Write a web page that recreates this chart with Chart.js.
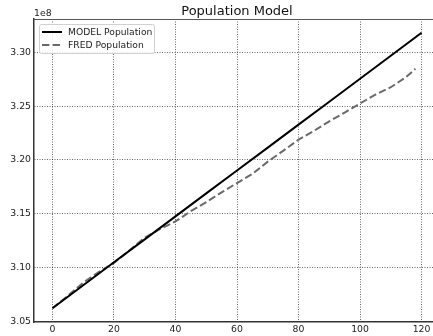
<!DOCTYPE html>
<html>
<head>
<meta charset="utf-8">
<script src="https://cdn.jsdelivr.net/npm/chart.js@4.4.1/dist/chart.umd.min.js"></script>
<style>
    html, body { margin: 0; padding: 0; background: #fff; }
    #wrap { width: 433px; height: 336px; overflow: hidden; }
    canvas { display: block; }
</style>
</head>
<body>
<div id="wrap"><canvas id="popChart" width="440" height="336"></canvas></div>
<script>
// Model population (months since start, people)
const modelMonths = [0, 10, 20, 30, 40, 50, 60, 70, 80, 90, 100, 110, 120];
const modelPop = [306250000, 308380000, 310510000, 312640000, 314770000, 316900000,
                  319030000, 321150000, 323280000, 325400000, 327540000, 329670000, 331800000];

// FRED population
const fredMonths = [0, 5, 10, 15, 20, 25, 30, 35, 40, 45, 50, 55, 60, 65, 70, 75,
                    80, 85, 90, 95, 100, 105, 110, 115, 118];
const fredPop = [306250000, 307400000, 308620000, 309600000, 310450000, 311600000,
                 312800000, 313600000, 314300000, 315250000, 316100000, 317000000,
                 317860000, 318700000, 319850000, 320850000, 321890000, 322700000,
                 323590000, 324400000, 325240000, 326070000, 326750000, 327700000, 328460000];

const xTicks = [0, 20, 40, 60, 80, 100, 120];
const yTicks = [305000000, 310000000, 315000000, 320000000, 325000000, 330000000];

const FONT = "'DejaVu Sans', sans-serif";

function toPoints(xs, ys) {
    return xs.map((x, i) => ({ x: x, y: ys[i] }));
}

// title, offset label, top spine and the legend inside the axes
const extras = {
    id: 'extras',
    afterDraw(chart) {
        const ctx = chart.ctx;
        const area = chart.chartArea;
        ctx.save();

        // top spine
        ctx.strokeStyle = '#555';
        ctx.lineWidth = 1.2;
        ctx.beginPath();
        ctx.moveTo(area.left, area.top + 0.5);
        ctx.lineTo(area.right, area.top + 0.5);
        ctx.stroke();

        ctx.fillStyle = '#111';
        ctx.font = '13px ' + FONT;
        ctx.textAlign = 'center';
        ctx.textBaseline = 'alphabetic';
        ctx.fillText('Population Model', (area.left + area.right) / 2, 15);

        ctx.font = '9.3px ' + FONT;
        ctx.textAlign = 'left';
        ctx.fillStyle = '#222';
        ctx.fillText('1e8', area.left, 16);

        // legend
        ctx.fillStyle = 'rgba(255,255,255,0.85)';
        ctx.strokeStyle = '#d0d0d0';
        ctx.lineWidth = 1;
        ctx.beginPath();
        ctx.roundRect(39.5, 24.5, 115, 29, 2);
        ctx.fill();
        ctx.stroke();

        ctx.font = '9.2px ' + FONT;
        ctx.textBaseline = 'middle';
        chart.data.datasets.forEach((ds, i) => {
            const y = 32 + i * 13;
            ctx.strokeStyle = ds.borderColor;
            ctx.lineWidth = ds.borderWidth;
            ctx.setLineDash(ds.borderDash || []);
            ctx.beginPath();
            ctx.moveTo(42, y);
            ctx.lineTo(62, y);
            ctx.stroke();
            ctx.setLineDash([]);
            ctx.fillStyle = '#222';
            ctx.fillText(ds.label, 68, y + 0.5);
        });

        ctx.restore();
    }
};

const gridStyle = {
    color: 'rgba(0,0,0,0.6)',
    lineWidth: 1,
    drawTicks: false
};

const ctx = document.getElementById('popChart').getContext('2d');
const popChart = new Chart(ctx, {
    type: 'line',
    data: {
        datasets: [{
            label: 'MODEL Population',
            data: toPoints(modelMonths, modelPop),
            borderColor: '#000000',
            borderWidth: 2,
            pointRadius: 0,
            tension: 0
        }, {
            label: 'FRED Population',
            data: toPoints(fredMonths, fredPop),
            borderColor: '#6a6a6a',
            borderWidth: 2,
            borderDash: [7.4, 3.2],
            pointRadius: 0,
            tension: 0
        }]
    },
    options: {
        responsive: false,
        animation: false,
        layout: { padding: { top: 19, left: 0, right: 0, bottom: 0 } },
        plugins: {
            legend: { display: false },
            title: { display: false },
            tooltip: { enabled: false }
        },
        scales: {
            x: {
                type: 'linear',
                min: -6,
                max: 126,
                afterBuildTicks: scale => { scale.ticks = xTicks.map(v => ({ value: v })); },
                afterFit: scale => { scale.height = 14; },
                grid: gridStyle,
                // in v4 border.dash styles the grid lines, the axis line stays solid
                border: { color: '#333', width: 1.5, dash: [1, 1.5] },
                ticks: {
                    padding: 2,
                    color: '#222',
                    font: { family: FONT, size: 9.3 },
                    maxRotation: 0,
                    callback: v => String(v)
                }
            },
            y: {
                type: 'linear',
                min: 304970000,
                max: 333080000,
                afterBuildTicks: scale => { scale.ticks = yTicks.map(v => ({ value: v })); },
                afterFit: scale => { scale.width = 34; },
                grid: gridStyle,
                border: { color: '#333', width: 1.5, dash: [1, 1.5] },
                ticks: {
                    padding: 3,
                    color: '#222',
                    font: { family: FONT, size: 9.3 },
                    callback: v => (v / 1e8).toFixed(2)
                }
            }
        }
    },
    plugins: [extras]
});
</script>
</body>
</html>
